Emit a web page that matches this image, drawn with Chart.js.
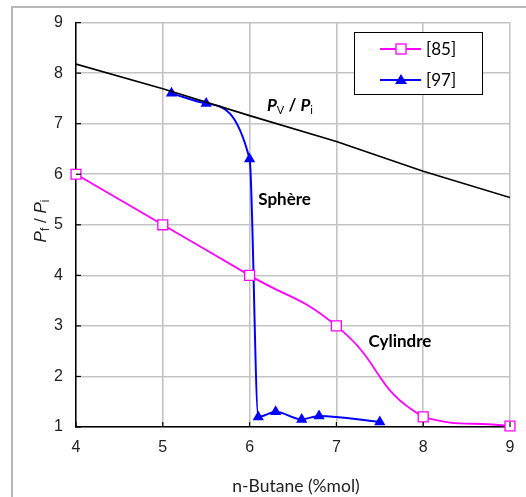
<!DOCTYPE html>
<html>
<head>
<meta charset="utf-8">
<script src="https://cdn.jsdelivr.net/npm/chart.js@4/dist/chart.umd.min.js"></script>
<style>
  html, body { margin: 0; padding: 0; background: #fff; }
  #wrap { width: 526px; height: 497px; position: relative; }
</style>
</head>
<body>
<div id="wrap"><canvas id="c"></canvas></div>
<script>
// n-Butane (%mol) vs Pf / Pi
const ref85X = [4, 5, 6, 7, 8, 9];
const ref85Y = [6.0, 5.0, 4.0, 3.0, 1.2, 1.02];

const ref97X = [5.1, 5.5, 6.0, 6.1, 6.3, 6.6, 6.8, 7.5];
const ref97Y = [7.6, 7.4, 6.3, 1.2, 1.3, 1.15, 1.22, 1.1];

// courbe Pv / Pi
const pvX = [4, 5, 6, 7, 8, 9];
const pvY = [8.18, 7.69, 7.16, 6.65, 6.06, 5.54];

const xTicks = [4, 5, 6, 7, 8, 9];
const yTicks = [1, 2, 3, 4, 5, 6, 7, 8, 9];

const legendItems = ["[85]", "[97]"];

const pts = (xs, ys) => xs.map((x, i) => ({ x, y: ys[i] }));

const AX = "'Liberation Sans', Arial, sans-serif";
const CAL = "Lato, 'Open Sans', sans-serif";

// petites annotations, cadre, légende, titres d'axes
const decor = {
  id: "decor",
  beforeDraw(chart){
    const ctx = chart.ctx;
    ctx.save();
    ctx.strokeStyle = "#b8b8b8";
    ctx.lineWidth = 2;
    ctx.strokeRect(12, 7, 600, 600);
    ctx.restore();
  },
  afterDatasetsDraw(chart){
    const { ctx, chartArea: a, scales: { x, y } } = chart;
    ctx.save();

    // petits traits de graduation vers l'intérieur
    ctx.strokeStyle = "#000";
    ctx.lineWidth = 1.2;
    xTicks.forEach(v => {
      const px = x.getPixelForValue(v);
      ctx.beginPath(); ctx.moveTo(px, a.bottom); ctx.lineTo(px, a.bottom - 5); ctx.stroke();
    });
    yTicks.forEach(v => {
      const py = y.getPixelForValue(v);
      ctx.beginPath(); ctx.moveTo(a.left, py); ctx.lineTo(a.left + 5, py); ctx.stroke();
    });

    ctx.fillStyle = "#000";
    ctx.textBaseline = "alphabetic";

    // Pv / Pi
    let cx = x.getPixelForValue(6.2), cy = y.getPixelForValue(7.25);
    const seg = (txt, font, dy = 0) => {
      ctx.font = font;
      ctx.fillText(txt, cx, cy + dy);
      cx += ctx.measureText(txt).width;
    };
    seg("P", "italic bold 17px " + CAL);
    seg("V", "11px " + CAL, 3);
    seg(" / ", "bold 17px " + CAL);
    seg("P", "italic bold 17px " + CAL);
    seg("i", "11px " + CAL, 3);

    ctx.font = "bold 17px " + CAL;
    ctx.textBaseline = "middle";
    ctx.fillText("Sphère", x.getPixelForValue(6.1), y.getPixelForValue(5.5));
    ctx.fillText("Cylindre", x.getPixelForValue(7.37), y.getPixelForValue(2.7));

    // légende
    ctx.fillStyle = "#fff";
    ctx.fillRect(354, 32, 128, 62);
    ctx.strokeStyle = "#000";
    ctx.lineWidth = 1;
    ctx.strokeRect(354.5, 32.5, 128, 62);
    const rows = [
      { y: 49, color: "#ff00ff" },
      { y: 80, color: "#0000ff" }
    ];
    rows.forEach((r, i) => {
      ctx.strokeStyle = r.color;
      ctx.lineWidth = 2;
      ctx.beginPath(); ctx.moveTo(380, r.y); ctx.lineTo(421, r.y); ctx.stroke();
      if (i === 0){
        ctx.fillStyle = "#fff";
        ctx.fillRect(396, r.y - 5, 10, 10);
        ctx.lineWidth = 1.3;
        ctx.strokeRect(396, r.y - 5, 10, 10);
      } else {
        ctx.fillStyle = r.color;
        ctx.beginPath();
        ctx.moveTo(401, r.y - 6); ctx.lineTo(407, r.y + 4); ctx.lineTo(395, r.y + 4);
        ctx.closePath(); ctx.fill();
      }
      ctx.fillStyle = "#000";
      ctx.font = "17px " + CAL;
      ctx.textAlign = "left";
      ctx.fillText(legendItems[i], 426, r.y + 1);
    });

    // titre axe x
    ctx.fillStyle = "#222";
    ctx.font = "17.5px " + CAL;
    ctx.textAlign = "center";
    ctx.fillText("n-Butane (%mol)", (a.left + a.right) / 2 + 3, 486);

    // titre axe y : Pf / Pi
    ctx.translate(40, 221);
    ctx.rotate(-Math.PI / 2);
    ctx.textAlign = "left";
    ctx.textBaseline = "alphabetic";
    const parts = [
      ["P", "italic 17px " + AX, 0],
      ["f", "12px " + AX, 3],
      [" / ", "17px " + AX, 0],
      ["P", "italic 17px " + AX, 0],
      ["i", "12px " + AX, 3]
    ];
    let w = 0;
    parts.forEach(p => { ctx.font = p[1]; w += ctx.measureText(p[0]).width; });
    let tx = -w / 2;
    parts.forEach(p => {
      ctx.font = p[1];
      ctx.fillText(p[0], tx, 6 + p[2]);
      tx += ctx.measureText(p[0]).width;
    });

    ctx.restore();
  }
};

new Chart(document.getElementById("c"), {
  type: "line",
  data: {
    datasets: [
      {
        label: "Pv / Pi",
        data: pts(pvX, pvY),
        borderColor: "#000",
        borderWidth: 1.6,
        pointRadius: 0,
        tension: 0
      },
      {
        label: legendItems[0],
        data: pts(ref85X, ref85Y),
        borderColor: "#ff00ff",
        backgroundColor: "#fff",
        borderWidth: 1.8,
        pointStyle: "rect",
        pointRadius: 7,
        pointBorderWidth: 1.3,
        tension: 0.5,
        clip: false
      },
      {
        label: legendItems[1],
        data: pts(ref97X, ref97Y),
        borderColor: "#0000ff",
        backgroundColor: "#0000ff",
        borderWidth: 2,
        pointStyle: "triangle",
        pointRadius: 6.5,
        pointBorderWidth: 0,
        tension: 0.3,
        cubicInterpolationMode: "monotone",
        clip: false
      }
    ]
  },
  options: {
    responsive: true,
    maintainAspectRatio: false,
    animation: false,
    layout: { padding: { left: 0, top: 18, right: 16, bottom: 0 } },
    plugins: { legend: { display: false }, tooltip: { enabled: false } },
    scales: {
      x: {
        type: "linear",
        min: 4, max: 9,
        afterFit: s => { s.height = 70; },
        afterBuildTicks: s => { s.ticks = xTicks.map(v => ({ value: v })); },
        grid: { color: "#c4c4c4", lineWidth: 1.6, drawTicks: false },
        border: { color: "#000", width: 1.5 },
        ticks: { padding: 11, color: "#222", font: { family: AX, size: 16 } }
      },
      y: {
        min: 1, max: 9,
        afterFit: s => { s.width = 76; },
        afterBuildTicks: s => { s.ticks = yTicks.map(v => ({ value: v })); },
        grid: { color: "#c4c4c4", lineWidth: 1.6, drawTicks: false },
        border: { color: "#000", width: 1.5 },
        ticks: { padding: 13, color: "#222", font: { family: AX, size: 16 } }
      }
    }
  },
  plugins: [decor]
});
</script>
</body>
</html>
